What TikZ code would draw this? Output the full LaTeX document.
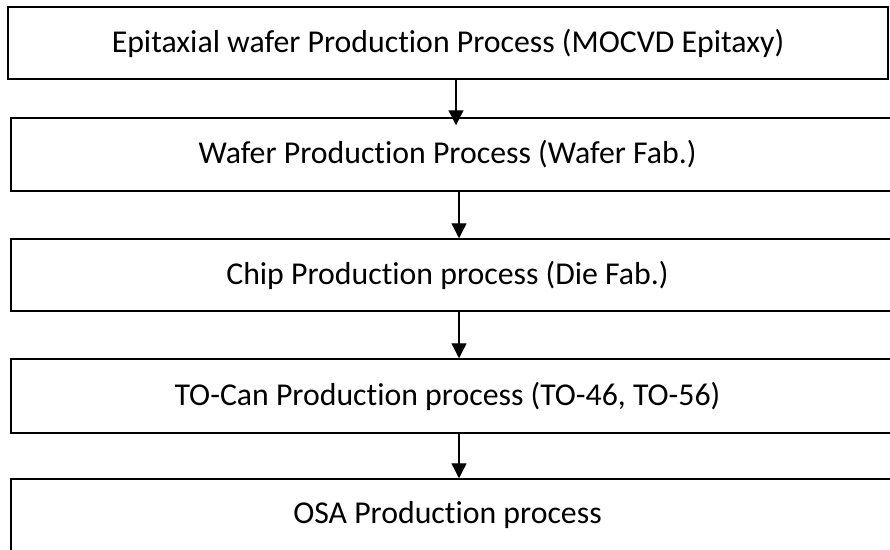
\documentclass[tikz,border=0pt]{standalone}
\usepackage{fontspec}
\setmainfont{Carlito}[Ligatures=NoCommon]
\newcommand{\Prdn}{Product\kern0pt ion}
\usetikzlibrary{arrows.meta}
\begin{document}
\begin{tikzpicture}[x=1pt,y=-1pt,
  box/.style={draw=black, line width=1.5pt, inner sep=0pt, font=\fontsize{31.8}{36}\selectfont},
  openbox/.style={box, minimum width=889pt, execute at begin node={\hspace*{-16pt}}},
  arr/.style={line width=1.3pt, -{Triangle[width=15pt,length=15pt]}}]
\useasboundingbox[fill=white] (0,0) rectangle (890,549);
\node[box, minimum width=880pt, minimum height=72pt] (b1) at (448,43) {Epitaxial wafer \Prdn{} Process (MOCVD Epitaxy)};
\node[openbox, minimum height=73pt] (b2) at (455.5,154.5) {Wafer \Prdn{} Process (Wafer Fab.)};
\node[openbox, minimum height=72pt] (b3) at (455.5,275) {Chip \Prdn{} process (Die Fab.)};
\node[openbox, minimum height=74pt] (b4) at (455.5,396) {TO-Can \Prdn{} process (TO-46, TO-56)};
\node[openbox, minimum height=73pt] (b5) at (455.5,515.5) {OSA \Prdn{} process};
\coordinate (xa) at (456,0);
\coordinate (xb) at (459,0);
\draw[arr, shorten >=-8pt] (b1.south -| xa) -- (b2.north -| xa);
\draw[arr] (b2.south -| xb) -- (b3.north -| xb);
\draw[arr] (b3.south -| xb) -- (b4.north -| xb);
\draw[arr] (b4.south -| xb) -- (b5.north -| xb);
\end{tikzpicture}
\end{document}
